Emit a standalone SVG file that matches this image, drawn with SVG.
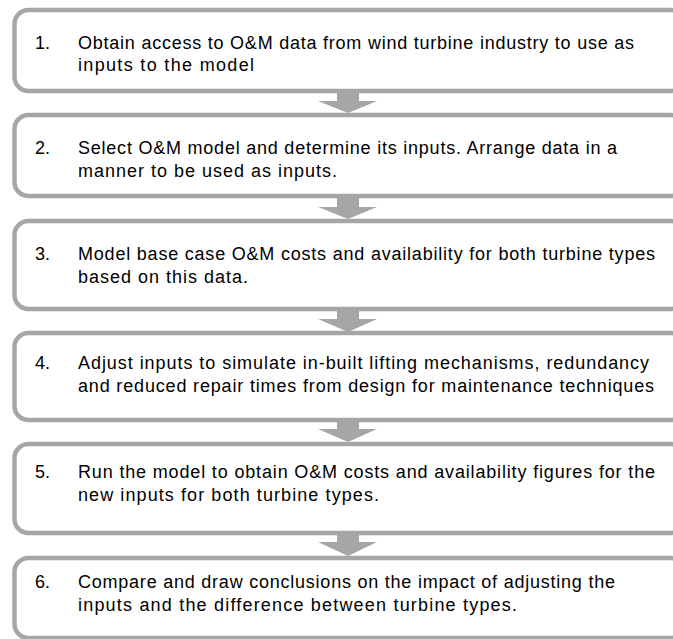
<svg xmlns="http://www.w3.org/2000/svg" width="673" height="639" viewBox="0 0 673 639">
<style>
.box{fill:#ffffff;stroke:#a6a6a6;stroke-width:4.5}
.arr{fill:#a6a6a6}
text{font-family:"Liberation Sans",Arial,sans-serif;font-size:18px;fill:#000}
</style>
<rect width="673" height="639" fill="#ffffff"/>
<g id="connectors">
<polygon class="arr" points="337,93 359,93 359,101 377,101 348,113 318,101 337,101"/>
<polygon class="arr" points="337,198 359,198 359,207 377,207 348,219 318,207 337,207"/>
<polygon class="arr" points="337,311 359,311 359,319 377,319 348,332 318,319 337,319"/>
<polygon class="arr" points="337,421 359,421 359,429 377,429 348,442 318,429 337,429"/>
<polygon class="arr" points="337,534 359,534 359,542 377,542 348,556 318,542 337,542"/>
</g>
<g id="node1"><rect class="box" x="14.5" y="10" width="670" height="81" rx="14"/>
<text x="35" y="49">1.</text><text x="78" y="49" textLength="556">Obtain access to O&amp;M data from wind turbine industry to use as</text><text x="78" y="71" textLength="176">inputs to the model</text></g>
<g id="node2"><rect class="box" x="14.5" y="115" width="670" height="81" rx="14"/>
<text x="35" y="154">2.</text><text x="78" y="154" textLength="539">Select O&amp;M model and determine its inputs. Arrange data in a</text><text x="78" y="177" textLength="259">manner to be used as inputs.</text></g>
<g id="node3"><rect class="box" x="14.5" y="221" width="670" height="88" rx="14"/>
<text x="35" y="260">3.</text><text x="78" y="260" textLength="577">Model base case O&amp;M costs and availability for both turbine types</text><text x="78" y="283" textLength="170">based on this data.</text></g>
<g id="node4"><rect class="box" x="14.5" y="333" width="670" height="87" rx="14"/>
<text x="35" y="369">4.</text><text x="78" y="369" textLength="571">Adjust inputs to simulate in-built lifting mechanisms, redundancy</text><text x="78" y="392" textLength="576">and reduced repair times from design for maintenance techniques</text></g>
<g id="node5"><rect class="box" x="14.5" y="444" width="670" height="89" rx="14"/>
<text x="35" y="478">5.</text><text x="78" y="478" textLength="577">Run the model to obtain O&amp;M costs and availability figures for the</text><text x="78" y="501" textLength="301">new inputs for both turbine types.</text></g>
<g id="node6"><rect class="box" x="14.5" y="558" width="670" height="80" rx="14"/>
<text x="35" y="588">6.</text><text x="78" y="588" textLength="537">Compare and draw conclusions on the impact of adjusting the</text><text x="78" y="611" textLength="439">inputs and the difference between turbine types.</text></g>
</svg>
